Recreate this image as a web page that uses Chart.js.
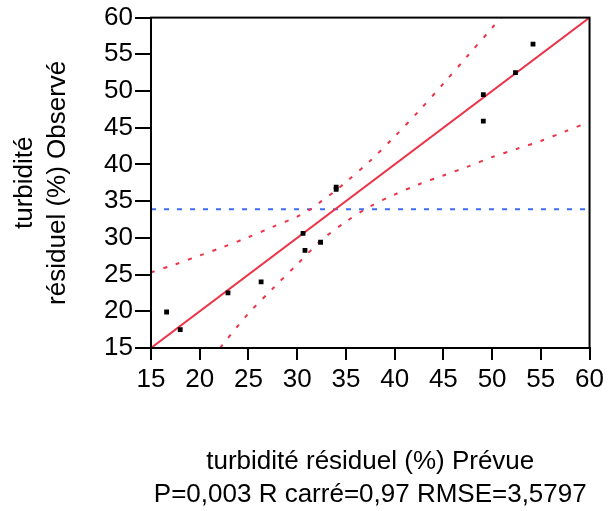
<!DOCTYPE html>
<html>
<head>
<meta charset="utf-8">
<script src="https://cdn.jsdelivr.net/npm/chart.js@4.4.0/dist/chart.umd.min.js"></script>
<style>
  html, body { margin: 0; padding: 0; background: #fff; }
  #wrap { width: 608px; height: 511px; }
</style>
</head>
<body>
<div id="wrap"><canvas id="myFitChart" width="608" height="511"></canvas></div>
<script>
const predicted = [16.6, 18.0, 22.9, 26.3, 30.6, 30.8, 32.4, 34.0, 34.0, 49.1, 49.1, 52.4, 54.2];
const observed = [19.9, 17.5, 22.5, 24.0, 30.6, 28.3, 29.4, 36.9, 36.6, 49.5, 45.9, 52.5, 56.4];

// Fit line
const fitX = [15, 60];
const fitY = [15, 60];

// Confidence curves
const upperX = [15, 17.5, 20, 22.5, 25, 27.5, 30, 31.5, 32.5, 34, 35, 37.5, 40, 42.5, 45, 47.5, 50, 50.9];
const upperY = [25.3, 26.4, 27.6, 28.8, 30.1, 31.5, 32.9, 34.0, 35.0, 36.5, 37.6, 40.5, 43.8, 47.3, 51.0, 54.8, 58.6, 60];
const lowerX = [22.1, 22.5, 25, 27.5, 30, 32.5, 35, 37.5, 40, 42.5, 45, 47.5, 50, 52.5, 55, 57.5, 60];
const lowerY = [15, 15.7, 19.7, 23.1, 26.4, 29.7, 32.2, 34.3, 35.9, 37.3, 38.5, 39.7, 41.0, 42.1, 43.2, 44.5, 45.8];

// Mean of observed
const meanX = [15, 60];
const meanY = [33.9, 33.9];

const tickValues = [15, 20, 25, 30, 35, 40, 45, 50, 55, 60];

const xTitle = ["turbidité résiduel (%) Prévue", "P=0,003 R carré=0,97 RMSE=3,5797"];
const yTitle = ["turbidité", "résiduel (%) Observé"];

const red = "#ec3348";
const blue = "#3d6ef5";
const font = "'Liberation Sans', Arial, sans-serif";

function pairs(xs, ys) {
  return xs.map((x, i) => ({ x: x, y: ys[i] }));
}

// draws the box round the plot
const frame = {
  id: "frame",
  afterDatasetsDraw(chart) {
    const { ctx, chartArea } = chart;
    ctx.save();
    ctx.strokeStyle = "#000";
    ctx.lineWidth = 2;
    ctx.strokeRect(chartArea.left, chartArea.top, chartArea.right - chartArea.left, chartArea.bottom - chartArea.top);
    ctx.restore();
  },
};

const fitChart = document.getElementById("myFitChart").getContext("2d");
const myFitChart = new Chart(fitChart, {
  type: "scatter",
  data: {
    datasets: [
      {
        label: "Observé",
        data: pairs(predicted, observed),
        pointStyle: "rect",
        pointRadius: 3.4,
        pointBorderWidth: 0,
        backgroundColor: "#000",
        borderColor: "#000",
      },
      {
        label: "Ajustement",
        data: pairs(fitX, fitY),
        showLine: true,
        pointRadius: 0,
        borderColor: red,
        borderWidth: 2,
      },
      {
        label: "Sup",
        data: pairs(upperX, upperY),
        showLine: true,
        pointRadius: 0,
        borderColor: red,
        borderWidth: 2,
        borderDash: [4, 9],
        tension: 0.3,
      },
      {
        label: "Inf",
        data: pairs(lowerX, lowerY),
        showLine: true,
        pointRadius: 0,
        borderColor: red,
        borderWidth: 2,
        borderDash: [4, 9],
        tension: 0.3,
      },
      {
        label: "Moyenne",
        data: pairs(meanX, meanY),
        showLine: true,
        pointRadius: 0,
        borderColor: blue,
        borderWidth: 2,
        borderDash: [5, 8],
      },
    ],
  },
  options: {
    responsive: false,
    animation: false,
    devicePixelRatio: 1,
    layout: {
      padding: { top: 4, right: 17, bottom: 0, left: 0 },
    },
    scales: {
      x: {
        type: "linear",
        min: 15,
        max: 60,
        afterBuildTicks: (scale) => {
          scale.ticks = tickValues.map((v) => ({ value: v }));
        },
        afterFit: (scale) => {
          scale.height = 163;
        },
        ticks: {
          color: "#000",
          padding: 4,
          maxRotation: 0,
          autoSkip: false,
          font: { family: font, size: 26 },
        },
        grid: {
          drawOnChartArea: false,
          drawTicks: true,
          tickLength: 12,
          color: "#000",
          lineWidth: 2,
        },
        border: { display: true, color: "#000", width: 2 },
        title: {
          display: true,
          text: xTitle,
          color: "#000",
          padding: { top: 0, bottom: 0 },
          font: { family: font, size: 26, lineHeight: 1.27 },
        },
      },
      y: {
        type: "linear",
        min: 15,
        max: 60,
        afterBuildTicks: (scale) => {
          scale.ticks = tickValues.map((v) => ({ value: v }));
        },
        afterFit: (scale) => {
          scale.width = 151;
        },
        ticks: {
          color: "#000",
          padding: 2,
          autoSkip: false,
          font: { family: font, size: 26 },
        },
        grid: {
          drawOnChartArea: false,
          drawTicks: true,
          tickLength: 16,
          color: "#000",
          lineWidth: 2,
        },
        border: { display: true, color: "#000", width: 2 },
        title: {
          display: true,
          text: yTitle,
          color: "#000",
          padding: { top: 8, bottom: 0 },
          font: { family: font, size: 26, lineHeight: 1.27 },
        },
      },
    },
    plugins: {
      legend: { display: false },
      tooltip: { enabled: false },
    },
  },
  plugins: [frame],
});
</script>
</body>
</html>
